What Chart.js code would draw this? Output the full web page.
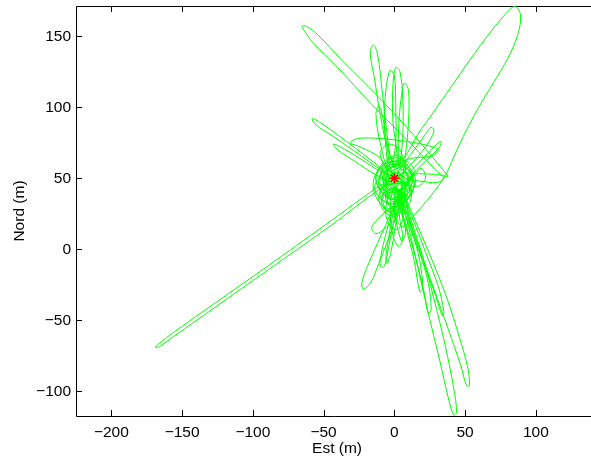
<!DOCTYPE html>
<html>
<head>
<meta charset="utf-8">
<script src="https://cdn.jsdelivr.net/npm/chart.js@4/dist/chart.umd.min.js"></script>
<style>
  html, body { margin: 0; padding: 0; background: #fff; overflow: hidden; }
</style>
</head>
<body>
<canvas id="trackChart" width="591" height="465"></canvas>
<script>
// trajectory, east / north in metres
const eastM = [
  0, 6, 10, 6, -3, -8, -5, 3, 9, 7, -2, -10, -13, -7, 2,
  8, 16, 28, 42, 56, 68, 78, 85, 89, 88, 82, 73, 62, 51, 42, 36, 26, 14, 6, 1, 0,
  2, 10, 14, 8, -2, -6, 0, 9, 12,
  24, 34, 38, 36, 14, -11, -37, -54, -62, -65, -63, -58, -41, -16, 10, 30, 35, 30, 18, 8,
  2, -5, -10, -14, -17, -15, -12, -9, -6, -3, 0,
  -6, -10, -4, 5, 8, 3, -4,
  -5, -7, -6, -3, 0, 1, 1, -1,
  2, -1, -1, 1, 4, 6, 6, 4,
  3, 3, 5, 7, 10, 10, 8, 5,
  -4, -10, -13, -11, -8, -5, -2,
  6, 12, 8, -2, -6, -2,
  -8, -22, -38, -52, -58, -56, -44, -28, -14, -4,
  -12, -26, -38, -43, -40, -28, -14, -4,
  -10, -24, -31, -26, -10, 8, 24, 31, 27, 12, 2, -4,
  4, 14, 22, 26, 28, 22, 12, 4, 8, 20, 30, 33, 32, 22, 10,
  12, 19, 22, 16, 8,
  -2, -8, -47.5, -87.8, -128, -155.3, -166, -169, -167, -156.7, -129.5, -89, -49, -20, -8, 0,
  6, 4, -4, -8, -4, 4,
  4, -4, -12, -19, -23, -22, -17, -11, -4, 2, 5,
  4, -4, -12, -16, -13, -5, 3, 6,
  2, -4, -9, -10, -7, -4, 0, 3, 1, -3, -6, -5, -2, 1, 4,
  6, 10, 18, 28, 38, 47, 51, 53, 52, 46, 37, 26, 14, 6,
  4, 10, 16, 24, 32, 38, 42, 44, 42, 36, 28, 20, 12, 6,
  3, 10, 20, 29, 34, 35, 31, 22, 12, 5,
  2, 8, 15, 21, 24, 26, 24, 18, 10, 4,
  2, 8, 14, 18, 20, 18, 12, 5,
  0, -6, -4, 2, 6, 4, -2, -10, -14, -10, 0, 10, 14, 10, 0, -8, -10, -4, 4, 6, 0, -4, 0, 2,
  -6, -10, -4, 4, 6, 2,
  0, 8, 12, 9, 2, -6, -11, -9, -3, 5, 11, 15, 12, 4, -5, -12, -15, -11, -4, 3,
  8, 6, -1, -7, -9, -4, 4, 10, 13, 7, -2, -9, -13, -8, 1, 9, 14, 10, 2, -4,
  -8, -6, 0, 6, 8, 3, -3, -5, 0,
  2, 4, 6, 3, -1, -3, 0, 5, 8, 5, 0,
  3, 9, 7, 0, -6, -4, 3, 10, 12, 6, -3, -9, -7, 1, 8, 5, -2, -8, -11, -5,
  4, 11, 9, 2, -5, -8, -2, 6, 10, 4, -4, -7, -1, 7, 12, 8, 0, -6, -3, 1
];
const northM = [
  50, 56, 50, 42, 41, 48, 56, 59, 53, 44, 38, 42, 52, 60, 62,
  66, 80, 97, 117, 137, 153, 165, 171, 166, 154, 138, 122, 104, 84, 65, 52, 38, 24, 16, 22, 34,
  46, 48, 56, 62, 58, 48, 42, 44, 52,
  53, 52, 51, 54, 80, 107, 133, 151, 157, 157, 153, 146, 129, 102, 76, 55, 50, 47, 48, 50,
  56, 72, 95, 120, 138, 144, 138, 115, 88, 66, 54,
  46, 38, 32, 36, 46, 54, 52,
  62, 88, 112, 126, 122, 100, 75, 58,
  64, 90, 115, 128, 125, 105, 80, 60,
  58, 85, 108, 117, 112, 90, 68, 52,
  56, 75, 95, 101, 92, 72, 55,
  48, 42, 34, 34, 42, 50,
  56, 67, 79, 89, 92, 88, 80, 69, 59, 52,
  56, 65, 72, 74, 70, 62, 53, 49,
  64, 72, 75, 78, 78, 76, 73, 70, 66, 64, 60, 55,
  58, 70, 81, 86, 83, 72, 60, 52, 52, 64, 74, 76, 72, 62, 50,
  50, 57, 50, 44, 46,
  46, 44, 14.8, -13.5, -41.8, -61, -68.5, -69, -67, -59, -39.8, -11.5, 17, 38, 46, 48,
  44, 36, 36, 44, 52, 50,
  40, 22, 4, -12, -24, -28, -24, -10, 8, 26, 40,
  32, 28, 21, 15, 11, 16, 24, 30,
  38, 18, -2, -12, -12, 2, 22, 38, 34, 14, -6, -10, 0, 18, 34,
  44, 24, 0, -28, -56, -82, -96, -96, -84, -62, -34, -6, 22, 40,
  40, 16, -10, -45, -78, -104, -117, -115, -98, -68, -35, -5, 20, 38,
  40, 18, -8, -32, -47, -44, -26, -2, 24, 40,
  40, 18, -6, -30, -45, -42, -24, -2, 22, 40,
  38, 16, -8, -30, -28, -8, 14, 36,
  44, 30, 18, 14, 22, 36, 46, 50, 44, 36, 32, 36, 46, 56, 60, 56, 46, 40, 42, 50, 54, 50, 46, 50,
  58, 68, 74, 70, 60, 54,
  50, 54, 47, 39, 35, 37, 45, 55, 61, 62, 57, 49, 40, 31, 29, 35, 46, 57, 64, 66,
  60, 52, 46, 48, 56, 63, 64, 58, 48, 40, 36, 40, 50, 59, 62, 57, 46, 36, 28, 27,
  33, 44, 52, 48, 40, 32, 30, 38, 46,
  40, 20, 8, 2, 10, 28, 44, 26, 12, 6, 30,
  46, 42, 34, 30, 35, 44, 48, 44, 36, 27, 26, 32, 40, 43, 38, 30, 24, 28, 38, 48,
  52, 46, 38, 34, 40, 52, 58, 56, 48, 42, 46, 54, 60, 58, 52, 44, 41, 46, 54, 52
];
const startPoint = { x: 0, y: 50 };

const xTicks = [-200, -150, -100, -50, 0, 50, 100];
const yTicks = [-100, -50, 0, 50, 100, 150];

const track = eastM.map((x, i) => ({ x: x, y: northM[i] }));
const minus = v => String(v).replace('-', '\u2212');
const font = { family: '"Liberation Sans", Arial, Helvetica, sans-serif', size: 15.5 };

// matlab style axes: left, top and bottom lines with inward ticks (right side is cut off)
const frame = {
  id: 'frame',
  beforeDatasetsDraw(chart) {
    const { ctx, chartArea: a, scales } = chart;
    ctx.save();
    ctx.strokeStyle = '#000';
    ctx.lineWidth = 1;
    ctx.beginPath();
    ctx.moveTo(a.right + 20, a.top + 0.5); ctx.lineTo(a.left + 0.5, a.top + 0.5);
    ctx.lineTo(a.left + 0.5, a.bottom + 0.5); ctx.lineTo(a.right + 20, a.bottom + 0.5);
    xTicks.forEach(v => {
      const px = Math.round(scales.x.getPixelForValue(v)) + 0.5;
      ctx.moveTo(px, a.bottom); ctx.lineTo(px, a.bottom - 6);
      ctx.moveTo(px, a.top); ctx.lineTo(px, a.top + 6);
    });
    yTicks.forEach(v => {
      const py = Math.round(scales.y.getPixelForValue(v)) + 0.5;
      ctx.moveTo(a.left, py); ctx.lineTo(a.left + 6, py);
    });
    ctx.stroke();
    ctx.restore();
  }
};

// x label centred on the full (uncut) plot box, as in the figure
const xTitle = {
  id: 'xTitle',
  afterDraw(chart) {
    const { ctx, chartArea: a, scales } = chart;
    ctx.save();
    ctx.font = '15.5px "Liberation Sans", Arial, Helvetica, sans-serif';
    ctx.fillStyle = '#000';
    ctx.textAlign = 'center';
    ctx.textBaseline = 'middle';
    ctx.fillText('Est (m)', (a.left + scales.x.getPixelForValue(144)) / 2, 449);
    ctx.restore();
  }
};

new Chart(document.getElementById('trackChart'), {
  type: 'scatter',
  data: {
    datasets: [{
      data: [startPoint],
      pointStyle: 'star',
      pointRadius: 5,
      borderColor: '#ff0000',
      backgroundColor: '#ff0000',
      borderWidth: 1.5,
      order: 0
    }, {
      data: track,
      showLine: true,
      pointRadius: 0,
      borderColor: '#00ff00',
      borderWidth: 1,
      tension: 0.35,
      order: 1
    }]
  },
  options: {
    responsive: false,
    animation: false,
    devicePixelRatio: 1,
    layout: { autoPadding: false, padding: { left: 0, right: 0, top: 6, bottom: 0 } },
    plugins: { legend: { display: false }, tooltip: { enabled: false } },
    scales: {
      x: {
        type: 'linear',
        min: -225,
        max: 139, // the plot box is cut by the right edge of the picture
        grid: { display: false, drawTicks: false },
        border: { display: false },
        ticks: { stepSize: 50, includeBounds: false, padding: 7, color: '#000', font: font, callback: minus },
        title: { display: false },
        afterFit: s => { s.height = 49; s.paddingLeft = 0; s.paddingRight = 0; }
      },
      y: {
        type: 'linear',
        min: -117.4,
        max: 171.3,
        grid: { display: false, drawTicks: false },
        border: { display: false },
        ticks: { stepSize: 50, includeBounds: false, padding: 5, color: '#000', font: font, callback: minus },
        title: { display: true, text: 'Nord (m)', color: '#000', font: font, padding: { top: 10, bottom: 0 } },
        afterFit: s => { s.width = 76; s.paddingTop = 0; s.paddingBottom = 0; }
      }
    }
  },
  plugins: [frame, xTitle]
});
</script>
</body>
</html>
